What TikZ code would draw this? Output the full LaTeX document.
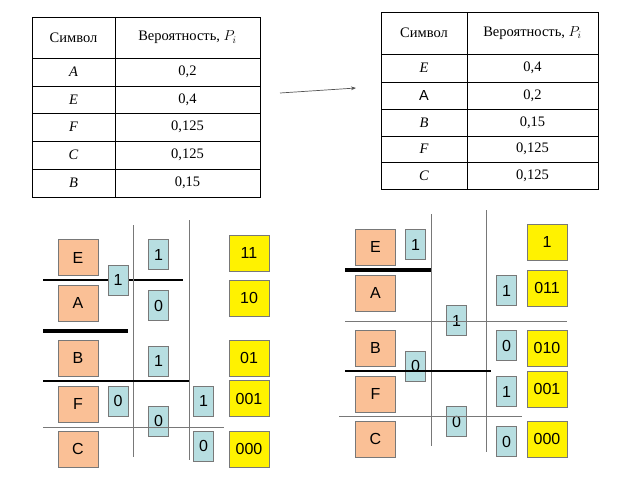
\documentclass[tikz,border=0pt]{standalone}
\usepackage{fontspec}
\setmainfont{Liberation Serif}
\setsansfont{Liberation Sans}
\usetikzlibrary{arrows.meta}
\definecolor{peach}{RGB}{250,192,150}
\definecolor{pale}{RGB}{183,222,225}
\definecolor{rulegray}{RGB}{120,120,120}
\tikzset{
    sym/.style={draw=rulegray, fill=peach, minimum width=40pt, minimum height=36pt, inner sep=0pt, font=\sffamily\fontsize{16}{16}\selectfont}, % symbol boxes
    bit/.style={draw=rulegray, fill=pale, minimum width=20pt, minimum height=30pt, inner sep=0pt, font=\sffamily\fontsize{16}{16}\selectfont}, % bits
    code/.style={draw=rulegray, fill=yellow, minimum width=40pt, minimum height=36pt, inner sep=0pt, font=\sffamily\fontsize{16}{16}\selectfont}, % code words
    cell/.style={font=\fontsize{14.5}{15}\selectfont},
    grid/.style={black, line width=0.9pt},
    thinsplit/.style={rulegray, line width=0.9pt},
    midsplit/.style={black, line width=1.7pt},
    thicksplit/.style={black, line width=3.8pt},
}
\begin{document}
\begin{tikzpicture}[x=1pt, y=-1pt]
    \useasboundingbox (0,0) rectangle (640,480);

    % first table
    \draw[grid] (32,17) rectangle (260,197);
    \draw[grid] (115,17) -- (115,197);
    \foreach \y in {58,86,113,141,169}
        \draw[grid] (32,\y) -- (260,\y);
    \node[cell] (ta0) at (73.5,37.5) {Символ};
    \node[cell] (tb0) at (187.5,37.5) {Вероятность, $P_i$};
    \node[cell] (ta1) at (73.5,72) {\textit{A}};
    \node[cell] (tb1) at (187.5,72) {0,2};
    \node[cell] (ta2) at (73.5,99.5) {\textit{E}};
    \node[cell] (tb2) at (187.5,99.5) {0,4};
    \node[cell] (ta3) at (73.5,127) {\textit{F}};
    \node[cell] (tb3) at (187.5,127) {0,125};
    \node[cell] (ta4) at (73.5,155) {\textit{C}};
    \node[cell] (tb4) at (187.5,155) {0,125};
    \node[cell] (ta5) at (73.5,182.5) {\textit{B}};
    \node[cell] (tb5) at (187.5,182.5) {0,15};

    % second table, sorted
    \draw[grid] (381,12) rectangle (598,189);
    \draw[grid] (467,12) -- (467,189);
    \foreach \y in {54,82,109,136,162}
        \draw[grid] (381,\y) -- (598,\y);
    \node[cell] (sa0) at (424,33) {Символ};
    \node[cell] (sb0) at (532.5,33) {Вероятность, $P_i$};
    \node[cell] (sa1) at (424,68) {\textit{E}};
    \node[cell] (sb1) at (532.5,68) {0,4};
    \node[cell] (sa2) at (424,95.5) {\sffamily А};
    \node[cell] (sb2) at (532.5,95.5) {0,2};
    \node[cell] (sa3) at (424,122.5) {\textit{B}};
    \node[cell] (sb3) at (532.5,122.5) {0,15};
    \node[cell] (sa4) at (424,149) {\textit{F}};
    \node[cell] (sb4) at (532.5,149) {0,125};
    \node[cell] (sa5) at (424,175.5) {\textit{C}};
    \node[cell] (sb5) at (532.5,175.5) {0,125};

    \coordinate (arrS) at (280,93);
    \coordinate (arrE) at (356,88);
    \draw[-{Stealth[length=5pt]}, rulegray!70!black, line width=0.7pt] (arrS) -- (arrE);

    % left split
    \draw[midsplit] (43,280) -- (183,280);
    \node[sym] (lE) at (78,257.5) {E};
    \node[sym] (lA) at (78,303) {A};
    \node[sym] (lB) at (78,358) {B};
    \node[sym] (lF) at (78,404) {F};
    \node[sym] (lC) at (78,449) {C};
    \node[bit] (l1a) at (118,280) {1};
    \node[bit] (l1b) at (118,401) {0};
    \node[bit] (l2a) at (158.5,254.5) {1};
    \node[bit] (l2b) at (158.5,305.5) {0};
    \node[bit] (l2c) at (158.5,361) {1};
    \node[bit] (l2d) at (158.5,421) {0};
    \node[bit] (l3a) at (203.5,401) {1};
    \node[bit] (l3b) at (203.5,446) {0};
    \node[code] (lcE) at (249,253) {11};
    \node[code] (lcA) at (249,298) {10};
    \node[code] (lcB) at (249,358) {01};
    \node[code] (lcF) at (249,398.5) {001};
    \node[code] (lcC) at (249,449) {000};
    \draw[thinsplit] (133,225) -- (133,457);
    \draw[thinsplit] (189,220) -- (189,460);
    \draw[thicksplit] (43,331) -- (128,331);
    \draw[midsplit] (43,381) -- (189,381);
    \draw[thinsplit] (43,427) -- (224,427);

    % right split
    \node[sym] (rE) at (375.5,247) {E};
    \node[sym] (rA) at (375.5,293) {A};
    \node[sym] (rB) at (375.5,348) {B};
    \node[sym] (rF) at (375.5,394) {F};
    \node[sym] (rC) at (375.5,439) {C};
    \node[bit] (r1a) at (415.5,244.5) {1};
    \node[bit] (r1b) at (415.5,366) {0};
    \node[bit] (r2a) at (456.5,320.5) {1};
    \node[bit] (r2b) at (456.5,421.5) {0};
    \node[bit] (r3a) at (506.5,290.5) {1};
    \node[bit] (r3b) at (506.5,345.5) {0};
    \node[bit] (r3c) at (506.5,391.5) {1};
    \node[bit] (r3d) at (506.5,441.5) {0};
    \node[code] (rcE) at (547,242) {1};
    \node[code] (rcA) at (547,288) {011};
    \node[code] (rcB) at (547,348) {010};
    \node[code] (rcF) at (547,389) {001};
    \node[code] (rcC) at (547,439) {000};
    \draw[thinsplit] (431,214) -- (431,446);
    \draw[thinsplit] (486,210) -- (486,452);
    \draw[thicksplit] (345,270) -- (431,270);
    \draw[thinsplit] (345,321) -- (567,321);
    \draw[midsplit] (345,371) -- (491,371);
    \draw[thinsplit] (339,416) -- (522,416);
\end{tikzpicture}
\end{document}
